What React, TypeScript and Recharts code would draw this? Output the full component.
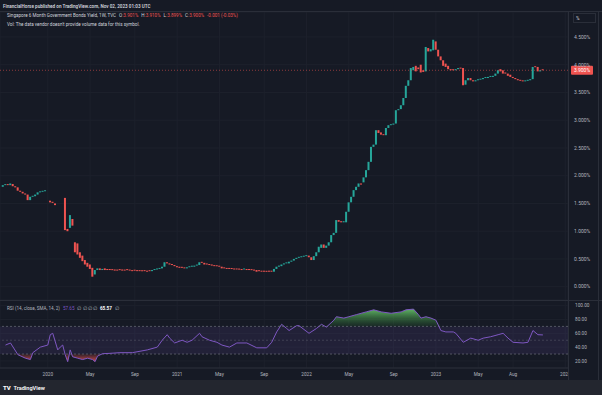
import React from 'react'
import {
  ComposedChart,
  Bar,
  Line,
  Area,
  XAxis,
  YAxis,
  CartesianGrid,
  ReferenceLine,
  ReferenceArea
} from 'recharts'

type OC = [number, number] | null

// weekly candles [open, close] in %, x = week number, week 0 = 2 Sep 2019
const bars2019: OC[] = [
  [1.80, 1.83], [1.83, 1.84], [1.84, 1.83], [1.83, 1.86], [1.85, 1.81], [1.81, 1.79],
  [1.79, 1.73], [1.73, 1.71], [1.71, 1.68], [1.68, 1.66], [1.66, 1.56], [1.56, 1.62],
  [1.62, 1.63], [1.63, 1.66], [1.66, 1.70], [1.70, 1.71], [1.71, 1.72], [1.72, 1.72]
]

const bars2020: OC[] = [
  null, [1.55, 1.52], [1.53, 1.51], [1.50, 1.47], null, null,
  null, [1.60, 1.02], [1.04, 1.00], [1.06, 1.29], [1.22, 1.10], [0.80, 0.62],
  [0.78, 0.58], [0.62, 0.52], [0.56, 0.46], [0.48, 0.40], [0.43, 0.36], [0.40, 0.32],
  [0.34, 0.18], [0.22, 0.30], [0.30, 0.33], [0.33, 0.30], [0.30, 0.32], [0.33, 0.30],
  [0.31, 0.30], [0.31, 0.30], [0.30, 0.298], [0.31, 0.29], [0.30, 0.29], [0.30, 0.298],
  [0.31, 0.29], [0.30, 0.29], [0.30, 0.298], [0.30, 0.29], [0.29, 0.28], [0.29, 0.288],
  [0.29, 0.28], [0.29, 0.28], [0.28, 0.278], [0.29, 0.28], [0.28, 0.27], [0.28, 0.279],
  [0.28, 0.30], [0.30, 0.31], [0.31, 0.32], [0.32, 0.33], [0.33, 0.36], [0.36, 0.44],
  [0.44, 0.42], [0.42, 0.40], [0.40, 0.39], [0.39, 0.37]
]

const bars2021: OC[] = [
  [0.37, 0.35], [0.36, 0.34], [0.35, 0.34], [0.34, 0.33], [0.33, 0.35], [0.35, 0.36],
  [0.36, 0.36], [0.36, 0.38], [0.38, 0.39], [0.39, 0.44], [0.44, 0.43], [0.43, 0.40],
  [0.41, 0.40], [0.40, 0.39], [0.40, 0.38], [0.38, 0.37], [0.37, 0.368], [0.37, 0.36],
  [0.36, 0.33], [0.34, 0.33], [0.33, 0.32], [0.33, 0.32], [0.32, 0.318], [0.32, 0.31],
  [0.32, 0.31], [0.31, 0.308], [0.31, 0.30], [0.31, 0.31], [0.31, 0.30], [0.31, 0.30],
  [0.30, 0.298], [0.30, 0.29], [0.30, 0.27], [0.28, 0.279], [0.28, 0.27], [0.28, 0.27],
  [0.27, 0.268], [0.28, 0.27], [0.272, 0.27], [0.27, 0.32], [0.32, 0.36], [0.36, 0.38],
  [0.37, 0.40], [0.40, 0.42], [0.42, 0.42], [0.42, 0.45], [0.45, 0.47], [0.47, 0.50],
  [0.50, 0.52], [0.52, 0.53], [0.53, 0.54], [0.54, 0.55]
]

const bars2022: OC[] = [
  [0.55, 0.56], [0.56, 0.53], [0.53, 0.48], [0.48, 0.55], [0.55, 0.62], [0.62, 0.72],
  [0.70, 0.76], [0.76, 0.70], [0.70, 0.74], [0.74, 0.80], [0.80, 0.93], [0.93, 0.97],
  [0.97, 1.20], [1.20, 1.17], [1.18, 1.16], [1.16, 1.18], [1.16, 1.35], [1.35, 1.52],
  [1.52, 1.62], [1.62, 1.74], [1.74, 1.80], [1.80, 1.86], [1.86, 1.84], [1.88, 1.97],
  [1.97, 2.10], [2.10, 2.25], [2.25, 2.52], [2.52, 2.56], [2.56, 2.82], [2.82, 2.77],
  [2.78, 2.74], [2.74, 2.73], [2.73, 2.86], [2.86, 2.91], [2.91, 2.92], [2.92, 2.94],
  [2.94, 3.18], [3.18, 3.20], [3.20, 3.27], [3.27, 3.40], [3.40, 3.62], [3.62, 3.72],
  [3.72, 3.94], [3.90, 3.96], [3.98, 3.88], [3.95, 3.92], [4.00, 3.86], [3.90, 3.87],
  [3.88, 4.32], [4.30, 4.24], [4.24, 4.28], [4.26, 4.45]
]

const bars2023: OC[] = [
  [4.42, 4.27], [4.27, 4.15], [4.15, 4.08], [4.08, 3.98], [4.02, 3.96], [3.98, 3.92],
  [3.92, 3.90], [3.91, 3.90], [3.90, 3.92], [3.92, 3.94], [3.94, 3.93], [3.94, 3.63],
  [3.64, 3.72], [3.72, 3.76], [3.76, 3.72], [3.72, 3.70], [3.70, 3.72], [3.72, 3.73],
  [3.73, 3.74], [3.74, 3.76], [3.76, 3.765], [3.76, 3.78], [3.78, 3.785], [3.78, 3.80],
  [3.80, 3.84], [3.84, 3.90], [3.92, 3.88], [3.90, 3.84], [3.86, 3.84], [3.84, 3.80],
  [3.82, 3.78], [3.78, 3.76], [3.76, 3.74], [3.74, 3.72], [3.72, 3.71], [3.71, 3.70],
  [3.70, 3.71], [3.71, 3.72], [3.72, 3.74], [3.74, 3.96], [3.96, 3.955], [3.96, 3.88],
  [3.88, 3.90], [3.901, 3.900]
]

// RSI(14): week number -> value
const rsiWeeks = [
  1, 3, 6, 9, 11, 12, 15, 18, 19, 20, 22, 23, 24, 25, 26, 27, 28, 30, 32, 34, 36, 37, 38, 40,
  43, 47, 52, 58, 62, 64, 66, 67, 69, 72, 74, 76, 79, 80, 83, 86, 88, 91, 94, 98, 102, 106,
  108, 110, 112, 114, 115, 118, 119, 123, 126, 128, 130, 133, 134, 137, 139, 142, 146, 149,
  152, 156, 160, 162, 165, 167, 168, 170, 172, 174, 176, 178, 181, 182, 185, 188, 191, 193,
  196, 199, 201, 203, 205, 209, 211, 213, 215, 217
]
const rsiValues = [
  43, 46, 29, 24, 22, 32, 40, 43, 58, 60, 36, 40, 43, 29, 19, 36, 26, 24, 22, 24, 22, 19, 27, 30.5,
  31, 32, 32, 36, 40, 50, 58, 53, 46, 50, 47, 50, 60, 55, 50, 47, 43, 40, 46, 46, 39, 39,
  47, 62, 73, 67, 64, 71, 71, 60, 67, 73, 69, 79, 84, 82, 84, 87, 91, 94,
  91, 89, 91, 94, 95, 87, 82, 84, 82, 79, 64, 62, 62, 60, 47, 53, 50, 53,
  55, 58, 60, 53, 47, 46, 47, 64, 58, 57.65
]

const priceTicks = [0, 0.5, 1, 1.5, 2, 2.5, 3, 3.5, 4, 4.5]
const rsiTicks = [20, 40, 60, 80, 100]
const timeTickWeeks = [18, 35, 53, 70, 87, 105, 122, 139, 157, 174, 191, 205, 226]
const timeTickLabels = ['2020', 'May', 'Sep', '2021', 'May', 'Sep', '2022', 'May', 'Sep', '2023', 'May', 'Aug', '2024']
const lastClose = 3.9

const BG = '#161a25'
const GRID = '#1d212c'
const BORDER = '#2a2e39'
const TEXT = '#d1d4dc'
const AXIS_TEXT = '#b2b5be'
const UP = '#26a69a'
const DOWN = '#ef5350'
const RSI_COLOR = '#7e57c2'
const FONT = 'Roboto, "Noto Sans", sans-serif'

const X_DOMAIN: [number, number] = [-1.206, 227.09]

const candles = [...bars2019, ...bars2020, ...bars2021, ...bars2022, ...bars2023]
  .map((b, i) =>
    b ? { i, open: b[0], close: b[1], body: [Math.min(b[0], b[1]), Math.max(b[0], b[1])] } : null
  )
  .filter(Boolean)

const rsiData = rsiWeeks.map((i, k) => {
  const v = rsiValues[k]
  return { i, rsi: v, ob: [70, Math.max(70, v)], os: [Math.min(30, v), 30] }
})

const CandleShape = (props: any) => {
  const { x, y, width, height, payload } = props
  const top = Math.min(y, y + height)
  const h = Math.max(Math.abs(height), 1)
  return <rect x={x} y={top} width={width} height={h} fill={payload.close >= payload.open ? UP : DOWN} />
}

const PriceTick = ({ y, payload }: any) => (
  <text x={574} y={y + 1.8} fill={AXIS_TEXT} fontSize={5} fontFamily={FONT}>
    {payload.value.toFixed(3)}%
  </text>
)

const RsiTick = ({ y, payload }: any) => (
  <text x={575} y={y + 1.7} fill={AXIS_TEXT} fontSize={4.7} fontFamily={FONT}>
    {payload.value.toFixed(2)}
  </text>
)

const TimeTick = ({ x, payload }: any) => {
  const k = timeTickWeeks.indexOf(payload.value)
  return (
    <svg x={0} y={68} width={568} height={12} overflow="hidden">
      <text x={x} y={7.8} textAnchor="middle" fill={AXIS_TEXT} fontSize={4.7} fontFamily={FONT}>
        {timeTickLabels[k]}
      </text>
    </svg>
  )
}

const PriceLabel = (props: any) => {
  const vb = props.viewBox || {}
  const left = vb.x + vb.width + 3
  return (
    <g>
      <rect x={left} y={vb.y - 4.5} width={22} height={9} rx={1} fill={DOWN} />
      <text x={left + 11} y={vb.y + 1.8} textAnchor="middle" fill="#ffffff" fontSize={5} fontFamily={FONT}>
        {lastClose.toFixed(3)}%
      </text>
    </g>
  )
}

export default function App() {
  return (
    <div
      style={{
        position: 'absolute',
        left: 0,
        top: 0,
        width: 602,
        height: 395,
        background: BG,
        overflow: 'hidden',
        fontFamily: FONT
      }}
    >
      <div style={{ position: 'absolute', left: 0, top: 0 }}>
        <ComposedChart width={602} height={300} data={candles} margin={{ top: 12, right: 0, bottom: 0, left: 0 }}>
          <CartesianGrid stroke={GRID} strokeWidth={1} />
          <XAxis dataKey="i" type="number" domain={X_DOMAIN} ticks={timeTickWeeks} hide allowDataOverflow />
          <YAxis
            orientation="right"
            domain={[-0.24, 4.95]}
            ticks={priceTicks}
            interval={0}
            width={34}
            axisLine={false}
            tickLine={false}
            tick={<PriceTick />}
            allowDataOverflow
          />
          <Bar dataKey="body" barSize={2} minPointSize={1} shape={CandleShape} isAnimationActive={false} />
          <ReferenceLine
            y={lastClose}
            stroke={DOWN}
            strokeOpacity={0.55}
            strokeDasharray="1 2"
            label={<PriceLabel />}
          />
        </ComposedChart>
      </div>

      <div style={{ position: 'absolute', left: 0, top: 300 }}>
        <ComposedChart width={602} height={80} data={rsiData} margin={{ top: 0, right: 0, bottom: 0, left: 0 }}>
          <defs>
            <linearGradient id="obFill" x1="0" y1="0" x2="0" y2="1">
              <stop offset="0%" stopColor="#66bb6a" stopOpacity={0.95} />
              <stop offset="100%" stopColor="#2e7d32" stopOpacity={0.15} />
            </linearGradient>
            <linearGradient id="osFill" x1="0" y1="0" x2="0" y2="1">
              <stop offset="0%" stopColor="#ef5350" stopOpacity={0.1} />
              <stop offset="100%" stopColor="#ef5350" stopOpacity={0.85} />
            </linearGradient>
          </defs>
          <CartesianGrid stroke={GRID} strokeWidth={1} />
          <XAxis
            dataKey="i"
            type="number"
            domain={X_DOMAIN}
            ticks={timeTickWeeks}
            interval={0}
            height={12}
            tick={<TimeTick />}
            tickLine={false}
            axisLine={{ stroke: BORDER }}
            allowDataOverflow
          />
          <YAxis
            orientation="right"
            domain={[9.8, 108.2]}
            ticks={rsiTicks}
            interval={0}
            width={34}
            axisLine={false}
            tickLine={false}
            tick={<RsiTick />}
            allowDataOverflow
          />
          <ReferenceArea y1={30} y2={70} fill={RSI_COLOR} fillOpacity={0.12} stroke="none" />
          <ReferenceLine y={70} stroke="#787b86" strokeOpacity={0.6} strokeDasharray="2 2" />
          <ReferenceLine y={50} stroke="#787b86" strokeOpacity={0.35} strokeDasharray="2 2" />
          <ReferenceLine y={30} stroke="#787b86" strokeOpacity={0.6} strokeDasharray="2 2" />
          <Area dataKey="ob" type="linear" stroke="none" fill="url(#obFill)" fillOpacity={1} isAnimationActive={false} />
          <Area dataKey="os" type="linear" stroke="none" fill="url(#osFill)" fillOpacity={1} isAnimationActive={false} />
          <Line dataKey="rsi" type="linear" stroke={RSI_COLOR} strokeWidth={1} dot={false} isAnimationActive={false} />
        </ComposedChart>
      </div>

      <svg style={{ position: 'absolute', left: 0, top: 0, pointerEvents: 'none' }} width={602} height={395}>
        <line x1={0} x2={602} y1={11.5} y2={11.5} stroke={BORDER} />
        <line x1={0} x2={602} y1={300.5} y2={300.5} stroke={BORDER} />
        <line x1={568.5} x2={568.5} y1={12} y2={380} stroke={BORDER} />
        <line x1={598.5} x2={598.5} y1={12} y2={380} stroke={BORDER} />
        <rect x={0} y={380} width={602} height={15} fill="#23262f" />

        <text x={3} y={7.6} fontSize={4.6} fill={TEXT} fontWeight={600} fontFamily={FONT}>
          FinancialHorse published on TradingView.com, Nov 02, 2023 01:03 UTC
        </text>
        <text x={7} y={16.7} fontSize={4.6} fill={TEXT} fontFamily={FONT}>
          Singapore 6 Month Government Bonds Yield, 1W, TVC
          <tspan dx={3}>O</tspan>
          <tspan fill={DOWN}>:3.901%</tspan>
          <tspan dx={3}>H</tspan>
          <tspan fill={DOWN}>:3.910%</tspan>
          <tspan dx={3}>L</tspan>
          <tspan fill={DOWN}>:3.899%</tspan>
          <tspan dx={3}>C</tspan>
          <tspan fill={DOWN}>:3.900%</tspan>
          <tspan dx={3} fill={DOWN}>-0.001 (-0.03%)</tspan>
        </text>
        <text x={7} y={25.6} fontSize={4.6} fill={TEXT} fontFamily={FONT}>
          Vol: The data vendor doesn't provide volume data for this symbol.
        </text>

        <rect x={573.5} y={13.5} width={22} height={9} fill="none" stroke={BORDER} />
        <text x={576} y={19.8} fontSize={4.8} fill={TEXT} fontFamily={FONT}>%</text>

        <text x={7} y={309.8} fontSize={4.6} fill={AXIS_TEXT} fontFamily={FONT}>
          RSI (14, close, SMA, 14, 2)
          <tspan dx={3} fill={RSI_COLOR}>57.65</tspan>
          <tspan dx={3}>∅  ∅  ∅  ∅</tspan>
          <tspan dx={3} fill="#ffffff" fontWeight={700}>65.57</tspan>
          <tspan dx={3}>∅</tspan>
        </text>

        <text x={3} y={390} fontSize={6} fill="#ffffff" fontWeight={800} fontFamily={FONT}>TV</text>
        <text x={13.5} y={390} fontSize={5.6} fill="#ffffff" fontWeight={600} fontFamily={FONT}>TradingView</text>
      </svg>
    </div>
  )
}
